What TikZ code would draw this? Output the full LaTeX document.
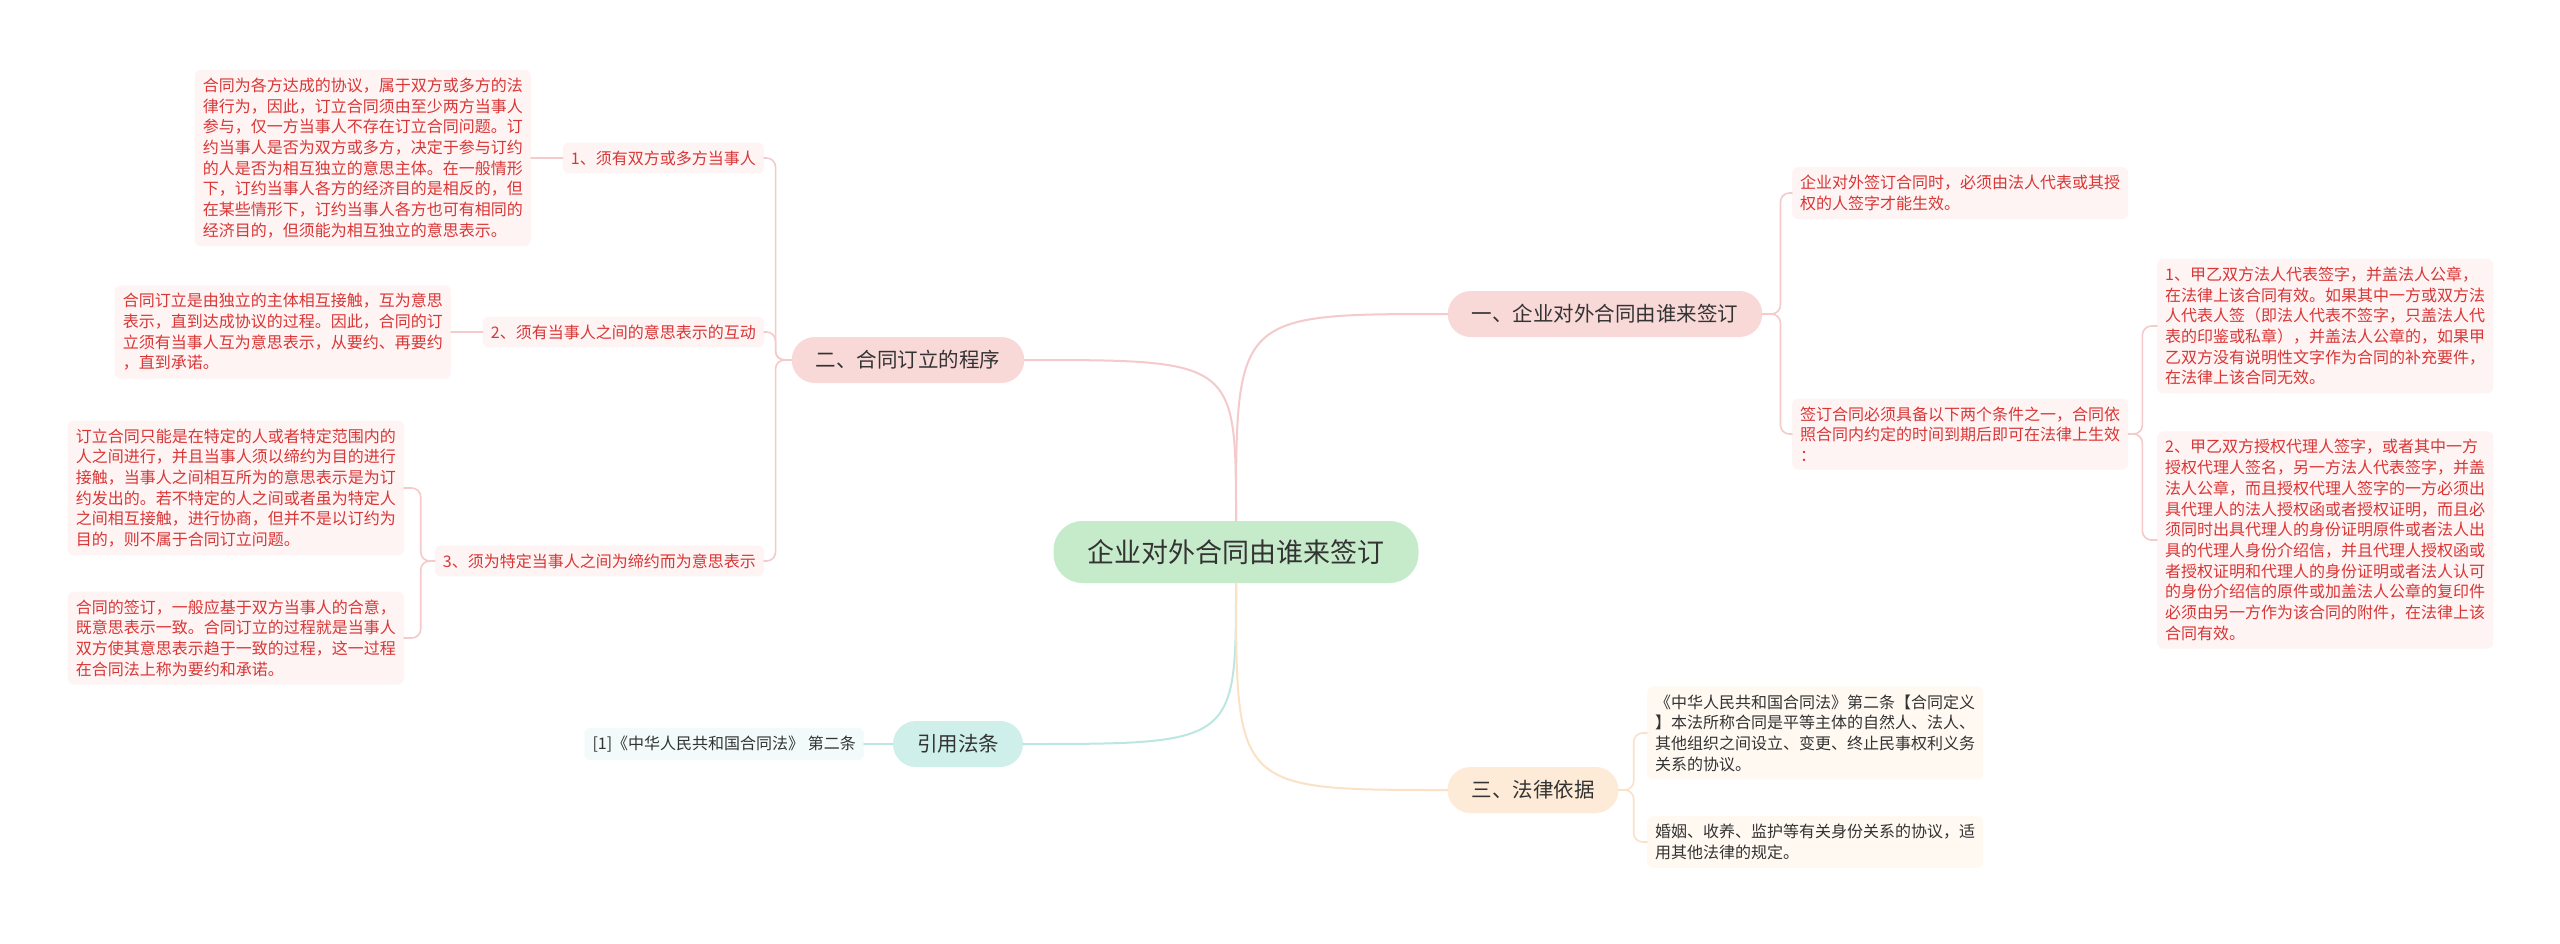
\documentclass[tikz,border=0pt]{standalone}
\usepackage{fontspec}
\setmainfont{Noto Sans CJK SC}
\definecolor{rootgreen}{HTML}{C6EBCB}
\definecolor{secpink}{HTML}{F9D8D8}
\definecolor{secteal}{HTML}{CFEFEA}
\definecolor{secpeach}{HTML}{FDEAD7}
\definecolor{linepink}{HTML}{F4CACA}
\definecolor{lineteal}{HTML}{BCE7E0}
\definecolor{linepeach}{HTML}{FBE1C5}
\definecolor{leafpink}{HTML}{FEF4F4}
\definecolor{leafteal}{HTML}{F2FBFA}
\definecolor{leafcream}{HTML}{FFF9F2}
\definecolor{leafred}{HTML}{D93636}
\definecolor{ink}{HTML}{333333}
\begin{document}
\begin{tikzpicture}[x=1pt,y=-1pt,line cap=round,line join=round,
  rootbox/.style={fill=rootgreen,text=ink,rounded corners=29pt,minimum width=365pt,minimum height=62pt,font=\fontsize{27}{32}\selectfont},
  secbox/.style={text=ink,rounded corners=23pt,minimum height=46pt,inner xsep=24pt,font=\fontsize{20.5}{24}\selectfont},
  leafbox/.style={align=left,rounded corners=6pt,inner xsep=8pt,inner ysep=8pt,font=\fontsize{16}{20.7}\selectfont},
  labbox/.style={fill=leafpink,text=leafred,rounded corners=6pt,inner xsep=8pt,inner ysep=8pt,font=\fontsize{16}{19}\selectfont},
  redleaf/.style={leafbox,fill=leafpink,text=leafred},
  inkleaf/.style={leafbox,fill=leafcream,text=ink},
  bigline/.style={line width=2pt},
  smallline/.style={line width=1.6pt,rounded corners=9pt}]
  \useasboundingbox[fill=white] (0,0) rectangle (2560,943);
  \node[rootbox] (root) at (1236,552) {企业对外合同由谁来签订};
  \node[secbox,fill=secpink] (sec1) at (1605,314) {一、企业对外合同由谁来签订};
  \node[secbox,fill=secpink] (sec2) at (908,360) {二、合同订立的程序};
  \node[secbox,fill=secteal] (cite) at (958,744) {引用法条};
  \node[secbox,fill=secpeach] (sec3) at (1533,790) {三、法律依据};
  \node[redleaf,anchor=west] (r1) at (1792,193) {企业对外签订合同时，必须由法人代表或其授\\权的人签字才能生效。};
  \node[redleaf,anchor=west] (r2) at (1792,434) {签订合同必须具备以下两个条件之一，合同依\\照合同内约定的时间到期后即可在法律上生效\\：};
  \node[redleaf,anchor=west] (r2a) at (2157,326) {1、甲乙双方法人代表签字，并盖法人公章，\\在法律上该合同有效。如果其中一方或双方法\\人代表人签（即法人代表不签字，只盖法人代\\表的印鉴或私章），并盖法人公章的，如果甲\\乙双方没有说明性文字作为合同的补充要件，\\在法律上该合同无效。};
  \node[redleaf,anchor=west] (r2b) at (2157,540) {2、甲乙双方授权代理人签字，或者其中一方\\授权代理人签名，另一方法人代表签字，并盖\\法人公章，而且授权代理人签字的一方必须出\\具代理人的法人授权函或者授权证明，而且必\\须同时出具代理人的身份证明原件或者法人出\\具的代理人身份介绍信，并且代理人授权函或\\者授权证明和代理人的身份证明或者法人认可\\的身份介绍信的原件或加盖法人公章的复印件\\必须由另一方作为该合同的附件，在法律上该\\合同有效。};
  \node[inkleaf,anchor=west] (r3a) at (1647,733) {《中华人民共和国合同法》第二条【合同定义\\】本法所称合同是平等主体的自然人、法人、\\其他组织之间设立、变更、终止民事权利义务\\关系的协议。};
  \node[inkleaf,anchor=west] (r3b) at (1647,842) {婚姻、收养、监护等有关身份关系的协议，适\\用其他法律的规定。};
  \node[labbox,anchor=east] (lab1) at (764,158) {1、须有双方或多方当事人};
  \node[labbox,anchor=east] (lab2) at (764,332) {2、须有当事人之间的意思表示的互动};
  \node[labbox,anchor=east] (lab3) at (764,561) {3、须为特定当事人之间为缔约而为意思表示};
  \node[redleaf,anchor=east] (a1) at (531,158) {合同为各方达成的协议，属于双方或多方的法\\律行为，因此，订立合同须由至少两方当事人\\参与，仅一方当事人不存在订立合同问题。订\\约当事人是否为双方或多方，决定于参与订约\\的人是否为相互独立的意思主体。在一般情形\\下，订约当事人各方的经济目的是相反的，但\\在某些情形下，订约当事人各方也可有相同的\\经济目的，但须能为相互独立的意思表示。};
  \node[redleaf,anchor=east] (a2) at (451,332) {合同订立是由独立的主体相互接触，互为意思\\表示，直到达成协议的过程。因此，合同的订\\立须有当事人互为意思表示，从要约、再要约\\，直到承诺。};
  \node[redleaf,anchor=east] (a3) at (404,488) {订立合同只能是在特定的人或者特定范围内的\\人之间进行，并且当事人须以缔约为目的进行\\接触，当事人之间相互所为的意思表示是为订\\约发出的。若不特定的人之间或者虽为特定人\\之间相互接触，进行协商，但并不是以订约为\\目的，则不属于合同订立问题。};
  \node[redleaf,anchor=east] (a4) at (404,638) {合同的签订，一般应基于双方当事人的合意，\\既意思表示一致。合同订立的过程就是当事人\\双方使其意思表示趋于一致的过程，这一过程\\在合同法上称为要约和承诺。};
  \node[leafbox,fill=leafteal,text=ink,anchor=east] (law) at (864,744) {[1]《中华人民共和国合同法》 第二条};
  \draw[bigline,linepink] (root.north) .. controls (root.north |- sec1.west) .. (sec1.west);
  \draw[bigline,linepink] (root.north) .. controls (root.north |- sec2.east) .. (sec2.east);
  \draw[bigline,lineteal] (root.south) .. controls (root.south |- cite.east) .. (cite.east);
  \draw[bigline,linepeach] (root.south) .. controls (root.south |- sec3.west) .. (sec3.west);
  \draw[smallline,linepink] (sec1.east) -- ++(18,0) |- (r1.west);
  \draw[smallline,linepink] (sec1.east) -- ++(18,0) |- (r2.west);
  \draw[smallline,linepink] (r2.east) -- ++(14,0) |- (r2a.west);
  \draw[smallline,linepink] (r2.east) -- ++(14,0) |- (r2b.west);
  \draw[smallline,linepink] (sec2.west) -- ++(-16,0) |- (lab1.east);
  \draw[smallline,linepink] (sec2.west) -- ++(-16,0) |- (lab2.east);
  \draw[smallline,linepink] (sec2.west) -- ++(-16,0) |- (lab3.east);
  \draw[smallline,linepink] (lab1.west) -- (a1.east);
  \draw[smallline,linepink] (lab2.west) -- (a2.east);
  \draw[smallline,linepink] (lab3.west) -- ++(-14,0) |- (a3.east);
  \draw[smallline,linepink] (lab3.west) -- ++(-14,0) |- (a4.east);
  \draw[smallline,linepeach] (sec3.east) -- ++(15,0) |- (r3a.west);
  \draw[smallline,linepeach] (sec3.east) -- ++(15,0) |- (r3b.west);
  \draw[smallline,lineteal] (law.east) -- (cite.west);
\end{tikzpicture}
\end{document}
